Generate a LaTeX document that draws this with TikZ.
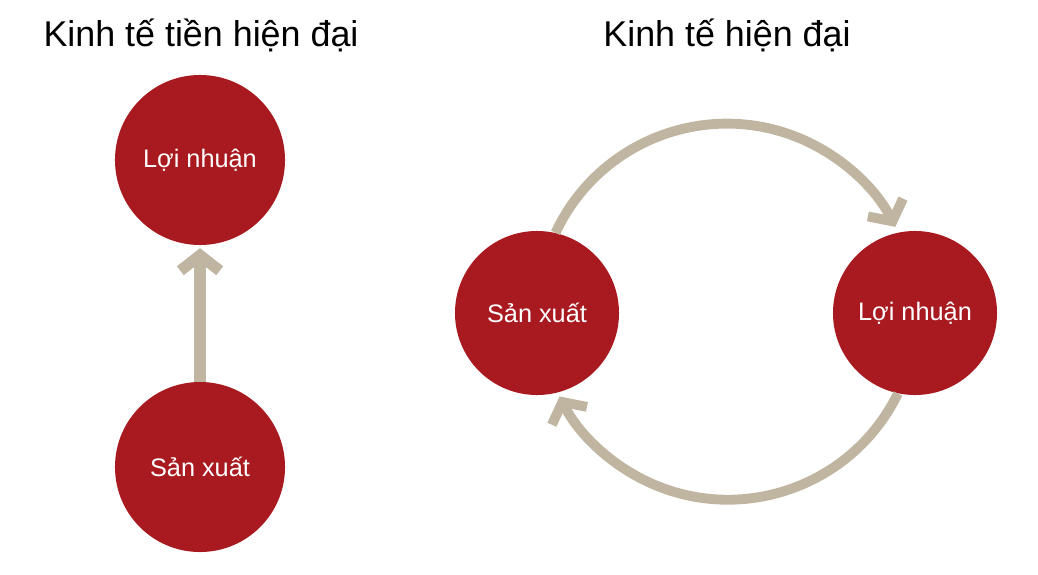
\documentclass[tikz,border=0pt]{standalone}
\usepackage{fontspec}
\setmainfont{Liberation Sans}
\usetikzlibrary{arrows.meta}

\definecolor{dotred}{RGB}{168,26,32}
\definecolor{flowgray}{RGB}{192,181,161}

\tikzset{
  bubble/.style={circle, fill=dotred, draw=none, inner sep=0pt, text=white, font=\fontsize{18}{21}\selectfont},
  flow/.style={draw=flowgray, line width=8pt, -{Straight Barb[length=11pt,width=28pt]}},
  heading/.style={font=\fontsize{25.5}{30}\selectfont}
}

\begin{document}
\begin{tikzpicture}[x=0.025cm,y=0.025cm]
  \useasboundingbox (0,0) rectangle (1038,574);

  % tieu de
  \node[heading] (titleL) at (201,539) {Kinh tế tiền hiện đại};
  \node[heading] (titleR) at (727,539) {Kinh tế hiện đại};

  % ben trai
  \node[bubble, minimum size=4.25cm] (loinhuanL) at (200,414) {Lợi nhuận};
  \node[bubble, minimum size=4.25cm] (sanxuatL) at (200,107) {Sản xuất};
  \draw[flow, shorten >=2pt] (sanxuatL) -- (loinhuanL);

  % ben phai
  \node[bubble, minimum size=4.1cm] (sanxuatR) at (537,261) {Sản xuất};
  \node[bubble, minimum size=4.1cm] (loinhuanR) at (915,261) {Lợi nhuận};
  \draw[flow, line width=7pt] (sanxuatR.77) arc[start angle=155, end angle=27, radius=4.725cm];
  \draw[flow, line width=7pt] (loinhuanR.258) arc[start angle=-26, end angle=-153, radius=4.725cm];
\end{tikzpicture}
\end{document}
